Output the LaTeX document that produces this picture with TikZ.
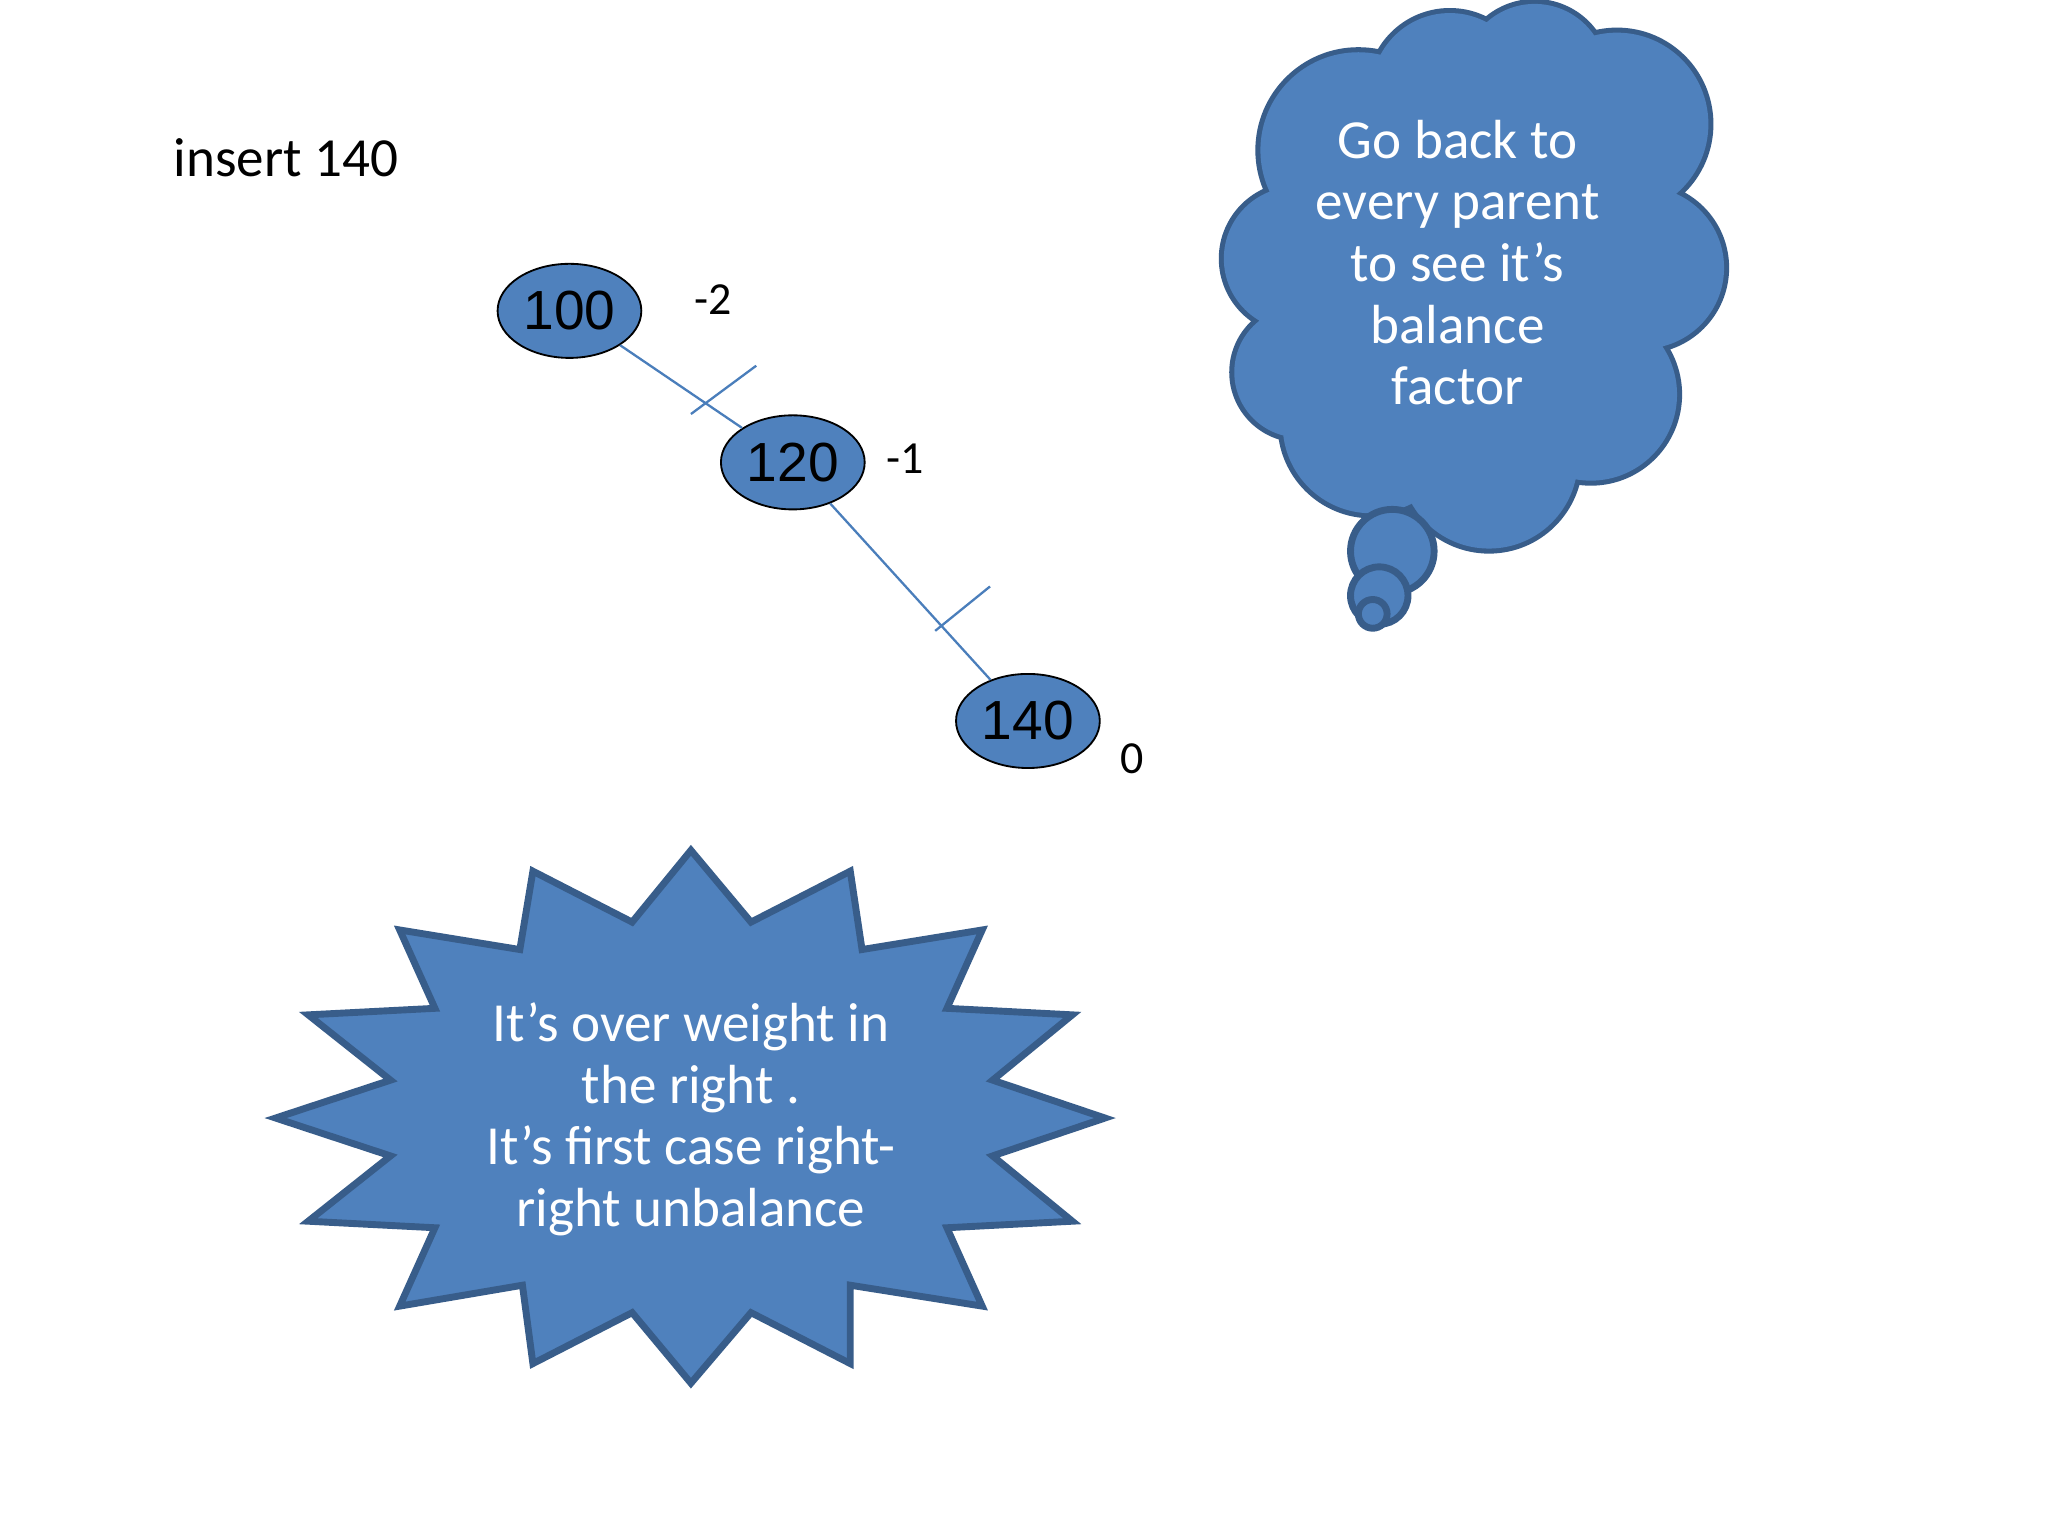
\documentclass[tikz,border=0pt]{standalone}
\usepackage{fontspec}
\setmainfont{Carlito}
\newfontfamily\arialf{Liberation Sans}
\definecolor{fillb}{HTML}{4F81BD}
\definecolor{edgeb}{HTML}{385D8A}
\definecolor{lineb}{HTML}{4A7EBB}
\tikzset{
 treenode/.style={ellipse, draw=black, fill=fillb, minimum width=1.1cm, minimum height=0.72cm, inner sep=0pt, font=\arialf\fontsize{12}{14}\selectfont},
 edgeline/.style={draw=lineb, line width=0.5pt},
 bf/.style={font=\fontsize{10}{12}\selectfont},
}
\usetikzlibrary{shapes.geometric}
\begin{document}
\begin{tikzpicture}[x=0.01cm,y=-0.01cm]
\useasboundingbox[fill=white] (0,0) rectangle (1568,1176);
\node[font=\fontsize{12}{14}\selectfont] (title) at (219,121) {insert 140};
\node[treenode] (a) at (436,238) {100};
\node[treenode] (b) at (607,354) {120};
\node[treenode] (c) at (787,552) {140};
\draw[edgeline] (a) -- (b);
\draw[edgeline] (b) -- (c);
\coordinate (t1a) at (529,317); \coordinate (t1b) at (579,280);
\coordinate (t2a) at (716,483); \coordinate (t2b) at (758,449);
\draw[edgeline] (t1a) -- (t1b);
\draw[edgeline] (t2a) -- (t2b);
\node[bf] (la) at (546,229) {-2};
\node[bf] (lb) at (693,351) {-1};
\node[bf] (lc) at (867,581) {0};
% cloud
\def\lobes{(1040,115) circle (75) (1110,70) circle (60) (1175,58) circle (55) (1238,95) circle (70) (1258,205) circle (62) (1218,302) circle (66) (1140,352) circle (68) (1050,325) circle (68) (995,285) circle (50) (992,198) circle (55) (1120,200) circle (150)}
\draw[edgeb, line width=2.2pt, fill=fillb] \lobes;
\fill[fillb] \lobes;
\draw[edgeb, line width=1.5pt, fill=fillb] (1066,422) circle (32);
\draw[edgeb, line width=1.5pt, fill=fillb] (1056,456) circle (22);
\draw[edgeb, line width=1.5pt, fill=fillb] (1051,470) circle (11);
\node[text=white, align=center, font=\fontsize{12}{13.4}\selectfont] (cloudtext) at (1116,201) {Go back to\\every parent\\to see it’s\\balance\\factor};
% star
\draw[edgeb, line width=1.5pt, fill=fillb] (529,651)--(575,706)--(651,667)--(660,727)--(752,712)--(725,772)--(821,777)--(760,827)--(846,856)--(760,885)--(821,935)--(725,940)--(752,1000)--(651,984)--(651,1044)--(575,1005)--(529,1059)--(484,1005)--(408,1044)--(400,984)--(306,1000)--(333,940)--(236,935)--(299,885)--(211,856)--(299,827)--(236,777)--(333,772)--(306,712)--(398,727)--(408,667)--(484,706)--cycle;
\node[text=white, align=center, font=\fontsize{12}{13.4}\selectfont] (startext) at (529,857) {It’s over weight in\\the right .\\It’s first case right-\\right unbalance};
\end{tikzpicture}
\end{document}
